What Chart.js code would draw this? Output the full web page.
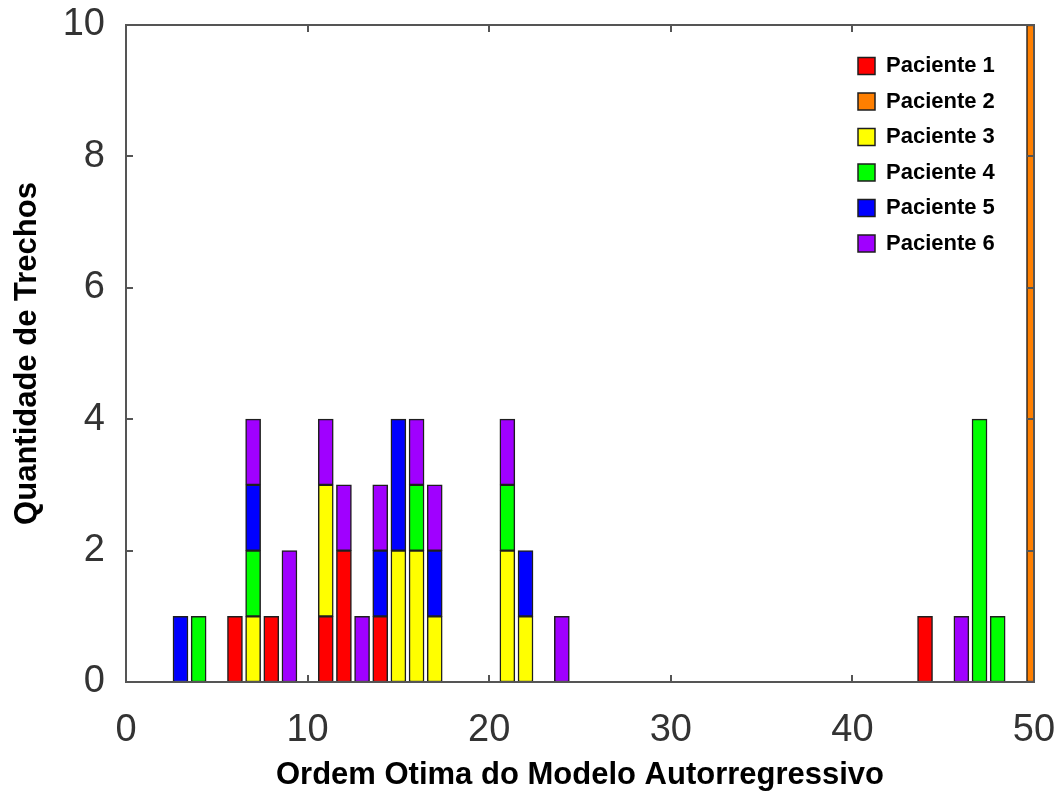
<!DOCTYPE html>
<html>
<head>
<meta charset="utf-8">
<title>Ordem Otima do Modelo Autorregressivo</title>
<script src="https://cdn.jsdelivr.net/npm/chart.js@4/dist/chart.umd.min.js"></script>
<style>
  html, body { margin: 0; padding: 0; background: #ffffff; }
  #wrap { width: 1061px; height: 792px; }
</style>
</head>
<body>
<div id="wrap"><canvas id="c" width="1061" height="792"></canvas></div>
<script>
// Optimal autoregressive order found per segment, one pair of arrays per patient
const p1Orders = [6, 8, 11, 12, 14, 44];
const p1Counts = [1, 1, 1, 2, 1, 1];
const p2Orders = [50];
const p2Counts = [10];
const p3Orders = [7, 11, 15, 16, 17, 21, 22];
const p3Counts = [1, 2, 2, 2, 1, 2, 1];
const p4Orders = [4, 7, 16, 21, 47, 48];
const p4Counts = [1, 1, 1, 1, 4, 1];
const p5Orders = [3, 7, 14, 15, 17, 22];
const p5Counts = [1, 1, 1, 2, 1, 1];
const p6Orders = [7, 9, 11, 12, 13, 14, 16, 17, 21, 24, 46];
const p6Counts = [1, 2, 1, 1, 1, 1, 1, 1, 1, 1, 1];

const seriesNames = ['Paciente 1', 'Paciente 2', 'Paciente 3', 'Paciente 4', 'Paciente 5', 'Paciente 6'];
const seriesColors = ['#ff0000', '#ff7f00', '#ffff00', '#00ff00', '#0000ff', '#a000ff'];

const xTicks = [0, 10, 20, 30, 40, 50];
const yTicks = [0, 2, 4, 6, 8, 10];

const xTitle = 'Ordem Otima do Modelo Autorregressivo';
const yTitle = 'Quantidade de Trechos';

const FONT = "'Liberation Sans', Arial, Helvetica, sans-serif";

function points(orders, counts) {
  return orders.map((o, i) => ({ x: o, y: counts[i] }));
}

const allSeries = [
  points(p1Orders, p1Counts),
  points(p2Orders, p2Counts),
  points(p3Orders, p3Counts),
  points(p4Orders, p4Counts),
  points(p5Orders, p5Counts),
  points(p6Orders, p6Counts)
];

const datasets = allSeries.map((data, i) => ({
  label: seriesNames[i],
  data: data,
  backgroundColor: seriesColors[i],
  borderColor: '#1e1e1e',
  borderWidth: 1.5,
  borderSkipped: false,
  barThickness: 15
}));

// Box around the plot with short inward ticks on all four sides
const framePlugin = {
  id: 'frame',
  afterDatasetsDraw(chart) {
    const { ctx, chartArea: a, scales } = chart;
    const len = 7;
    ctx.save();
    ctx.strokeStyle = '#555555';
    ctx.lineWidth = 2;
    ctx.beginPath();
    xTicks.slice(1, -1).forEach(v => {
      const px = Math.round(scales.x.getPixelForValue(v));
      ctx.moveTo(px, a.bottom); ctx.lineTo(px, a.bottom - len);
      ctx.moveTo(px, a.top); ctx.lineTo(px, a.top + len);
    });
    yTicks.slice(1, -1).forEach(v => {
      const py = Math.round(scales.y.getPixelForValue(v));
      ctx.moveTo(a.left, py); ctx.lineTo(a.left + len, py);
      ctx.moveTo(a.right, py); ctx.lineTo(a.right - len, py);
    });
    ctx.stroke();
    ctx.strokeRect(a.left, a.top, a.right - a.left, a.bottom - a.top);
    ctx.restore();
  }
};

// Legend sits in the upper right corner of the plot area
const legendPlacement = {
  id: 'legendPlacement',
  afterLayout(chart) {
    const lg = chart.legend;
    const a = chart.chartArea;
    const pad = lg.options.labels.padding;
    lg.left = a.right - 176 - pad;
    lg.top = a.top + 30 - pad;
    lg.right = lg.left + lg.width;
    lg.bottom = lg.top + lg.height;
  }
};

new Chart(document.getElementById('c'), {
  type: 'bar',
  data: { datasets: datasets },
  plugins: [framePlugin, legendPlacement],
  options: {
    responsive: false,
    animation: false,
    layout: { padding: { top: 25, right: 27, left: 0, bottom: 0 } },
    plugins: {
      tooltip: { enabled: false },
      legend: {
        position: 'chartArea',
        align: 'start',
        labels: {
          boxWidth: 17,
          boxHeight: 17,
          padding: 13.5,
          color: '#000000',
          font: { family: FONT, size: 22, weight: 'bold', lineHeight: 1 }
        }
      }
    },
    scales: {
      x: {
        type: 'linear',
        stacked: true,
        offset: false,
        min: 0,
        max: 50,
        afterBuildTicks(scale) { scale.ticks = xTicks.map(v => ({ value: v })); },
        afterFit(scale) {
          scale.height = 110;
          scale.paddingLeft = 0;
          scale.paddingRight = 0;
        },
        grid: { display: false, drawTicks: false, offset: false },
        border: { display: false },
        ticks: {
          padding: 26,
          maxRotation: 0,
          color: '#333333',
          font: { family: FONT, size: 38 }
        },
        title: {
          display: true,
          text: xTitle,
          color: '#000000',
          padding: { top: 0, bottom: 1 },
          font: { family: FONT, size: 31, weight: 'bold', lineHeight: 1 }
        }
      },
      y: {
        stacked: true,
        min: 0,
        max: 10,
        afterBuildTicks(scale) { scale.ticks = yTicks.map(v => ({ value: v })); },
        afterFit(scale) {
          scale.width = 126;
          scale.paddingTop = 0;
          scale.paddingBottom = 0;
        },
        grid: { display: false, drawTicks: false },
        border: { display: false },
        ticks: {
          padding: 21,
          color: '#333333',
          font: { family: FONT, size: 38 }
        },
        title: {
          display: true,
          text: yTitle,
          color: '#000000',
          padding: { top: 12, bottom: 0 },
          font: { family: FONT, size: 31, weight: 'bold', lineHeight: 1 }
        }
      }
    }
  }
});
</script>
</body>
</html>
